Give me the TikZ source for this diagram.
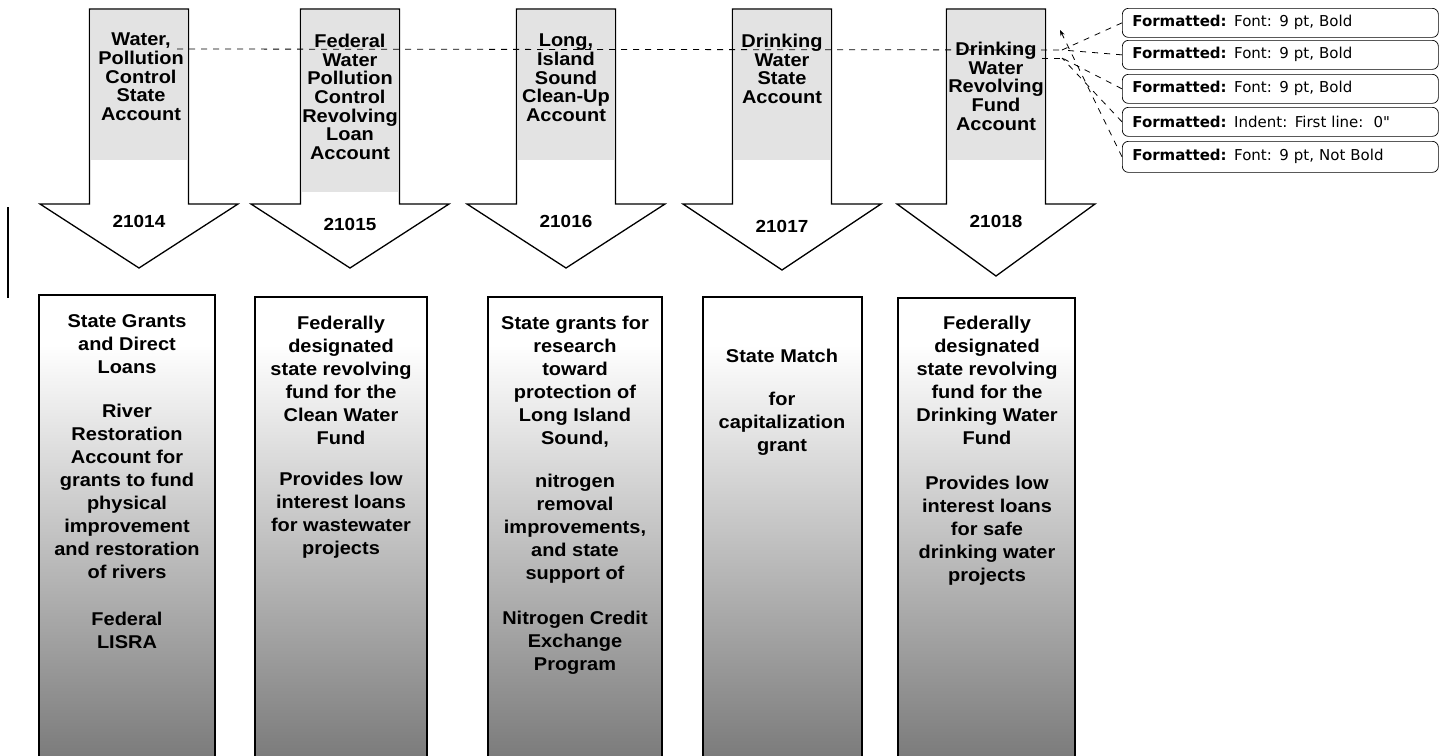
\documentclass[tikz,border=0pt]{standalone}
\usepackage{fontspec}
\setmainfont{Liberation Sans}[FakeStretch=1.08]
\newfontfamily\cmtfont{DejaVu Sans}
\usetikzlibrary{arrows.meta}
\newcommand\fundarrow[3]{%
  \fill[black!11] (#1-48,10) rectangle (#1+48,#3);
  \draw[arrowshape] (#1-49.5,9) -- (#1+49.5,9) -- (#1+49.5,204) -- (#1+99,204) -- (#1,#2) -- (#1-99,204) -- (#1-49.5,204) -- cycle;
}
\newcommand\gradbox[3]{%
  \shade[top color=white, bottom color=black!52] (#1,345) rectangle (#2,760);
  \draw[boxline] (#1,760) -- (#1,#3) -- (#2,#3) -- (#2,760);
}
\begin{document}
\begin{tikzpicture}[x=1pt,y=-1pt,
  arrowshape/.style={draw=black, line width=1.3pt, line join=miter},
  boxline/.style={draw=black, line width=1.3pt},
  atext/.style={font=\bfseries\fontsize{18.5}{18.6}\selectfont, align=center, inner sep=0pt, anchor=north},
  numtext/.style={font=\bfseries\fontsize{17.5}{18}\selectfont, inner sep=0pt, anchor=base},
  boxtext/.style={font=\bfseries\fontsize{18.5}{23}\selectfont, align=center, inner sep=0pt, anchor=north},
  cmt/.style={draw=black, line width=0.7pt, rounded corners=6pt, minimum width=316pt, minimum height=29pt, text width=296pt, align=left, inner xsep=10pt, inner ysep=0pt, font=\cmtfont\fontsize{15}{17}\selectfont, anchor=north west},
  lead/.style={draw=black, line width=0.8pt, dash pattern=on 6pt off 6pt},
]
\useasboundingbox (0,0) rectangle (1448,755);

% left margin bar
\draw[line width=1.2pt] (8,207) -- (8,298);

% top arrows
\fundarrow{139}{268}{160}
\fundarrow{350}{268}{192}
\fundarrow{566}{268}{160}
\fundarrow{782}{270}{160}
\fundarrow{996}{276}{160}

\node[atext] (t1) at (141,33) {Water,\\Pollution\\Control\\State\\Account};
\node[atext] (t2) at (350,34) {Federal\\Water\\Pollution\\Control\\Revolving\\Loan\\Account};
\node[atext] (t3) at (566,34) {Long,\\Island\\Sound\\Clean-Up\\Account};
\node[atext] (t4) at (782,34) {Drinking\\Water\\State\\Account};
\node[atext] (t5) at (996,42) {Drinking\\Water\\Revolving\\Fund\\Account};

\node[numtext] (n1) at (139,227) {21014};
\node[numtext] (n2) at (350,230) {21015};
\node[numtext] (n3) at (566,227) {21016};
\node[numtext] (n4) at (782,232) {21017};
\node[numtext] (n5) at (996,227) {21018};

% bottom boxes
\gradbox{39}{215}{295}
\gradbox{255}{427}{297}
\gradbox{488}{662}{297}
\gradbox{703}{862}{297}
\gradbox{898}{1075}{298}

\node[boxtext] (b1) at (127,314) {State Grants\\and Direct\\Loans\\[21pt]River\\Restoration\\Account for\\grants to fund\\physical\\improvement\\and restoration\\of rivers\\[24pt]Federal\\LISRA};
\node[boxtext] (b2) at (341,316) {Federally\\designated\\state revolving\\fund for the\\Clean Water\\Fund\\[18pt]Provides low\\interest loans\\for wastewater\\projects};
\node[boxtext] (b3) at (575,316) {State grants for\\research\\toward\\protection of\\Long Island\\Sound,\\[20pt]nitrogen\\removal\\improvements,\\and state\\support of\\[22pt]Nitrogen Credit\\Exchange\\Program};
\node[boxtext] (b4) at (782,349) {State Match\\[20pt]for\\capitalization\\grant};
\node[boxtext] (b5) at (987,316) {Federally\\designated\\state revolving\\fund for the\\Drinking Water\\Fund\\[22pt]Provides low\\interest loans\\for safe\\drinking water\\projects};

% comment balloons
\node[cmt] (c1) at (1122,8) {\textbf{Formatted:} Font: 9 pt, Bold};
\node[cmt] (c2) at (1122,40) {\textbf{Formatted:} Font: 9 pt, Bold};
\node[cmt] (c3) at (1122,74) {\textbf{Formatted:} Font: 9 pt, Bold};
\node[cmt] (c4) at (1122,107) {\textbf{Formatted:} Indent: First line:\ \ 0"};
\node[cmt, minimum height=31pt] (c5) at (1122,141) {\textbf{Formatted:} Font: 9 pt, Not Bold};

% leader anchors
\coordinate (w1) at (177,49);
\coordinate (d5) at (1042,58);
\coordinate (a1) at (1062,50);
\coordinate (a2) at (1062,58);
\coordinate (a3) at (1060,30);

\draw[lead] (w1) -- (a1);
\draw[lead] (d5) -- (a2);
\draw[lead] (c1.west) -- (a1);
\draw[lead] (c2.west) -- (a1);
\draw[lead] (c3.west) -- (a2);
\draw[lead] (c4.west) -- (a2);
\draw[lead, -{Stealth[length=6pt,width=4.5pt]}] (c5.west) -- (a3);
\end{tikzpicture}
\end{document}
